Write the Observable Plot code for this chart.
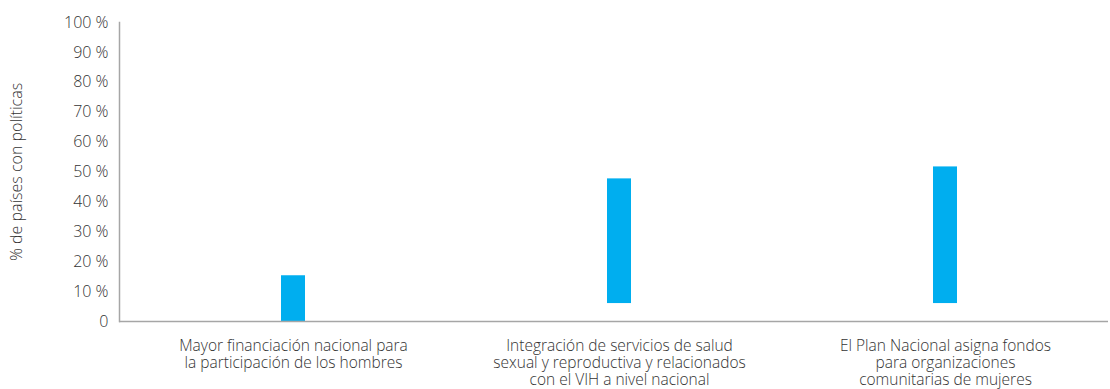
<!DOCTYPE html>
<html>
<head>
<meta charset="utf-8">
<script src="https://cdn.jsdelivr.net/npm/d3@7"></script>
<script src="https://cdn.jsdelivr.net/npm/@observablehq/plot@0.6"></script>
<style>
  html, body { margin: 0; padding: 0; background: #fff; }
  #chart { width: 1110px; height: 389px; }
  svg { font-family: "Open Sans", Lato, sans-serif; }
</style>
</head>
<body>
<div id="chart"></div>
<script>
const categories = ["financiacion", "integracion", "plan"];
const categoryLabels = [
  "Mayor financiación nacional para\nla participación de los hombres",
  "Integración de servicios de salud\nsexual y reproductiva y relacionados\ncon el VIH a nivel nacional",
  "El Plan Nacional asigna fondos\npara organizaciones\ncomunitarias de mujeres"
];
const barBase = [0, 6, 6];
const barTop = [15.3, 47.7, 51.7];
const yTicks = [0, 10, 20, 30, 40, 50, 60, 70, 80, 90, 100];
const yLabel = "% de países con políticas";

const data = categories.map((c, i) => ({cat: c, y1: barBase[i], y2: barTop[i]}));
const labelOf = new Map(categories.map((c, i) => [c, categoryLabels[i]]));

const plot = Plot.plot({
  width: 1110,
  height: 389,
  marginLeft: 119,
  marginRight: 2,
  marginTop: 22,
  marginBottom: 68,
  style: {fontFamily: "'Open Sans', Lato, sans-serif", color: "#333", background: "#fff", fontWeight: 300},
  x: {domain: categories, range: [130, 1108], padding: 0},
  y: {domain: [0, 100]},
  marks: [
    Plot.barY(data, {x: "cat", y1: "y1", y2: "y2", fill: "#00AEEF", insetLeft: 151, insetRight: 151}),
    Plot.ruleY([0], {stroke: "#a6a6a6", strokeWidth: 1.5}),
    Plot.frame({anchor: "left", stroke: "#a6a6a6", strokeWidth: 1.5}),
    Plot.axisY({
      ticks: yTicks,
      tickSize: 0,
      tickPadding: 11,
      fontSize: 16,
      tickFormat: d => d === 0 ? "0" : d + " %",
      label: yLabel,
      labelAnchor: "center",
      labelArrow: "none",
      labelOffset: 109
    }),
    Plot.axisX({
      tickSize: 0,
      tickPadding: 17,
      fontSize: 15.5,
      lineHeight: 1.1,
      tickFormat: d => labelOf.get(d),
      label: null
    })
  ]
});
document.getElementById("chart").appendChild(plot);
</script>
</body>
</html>
